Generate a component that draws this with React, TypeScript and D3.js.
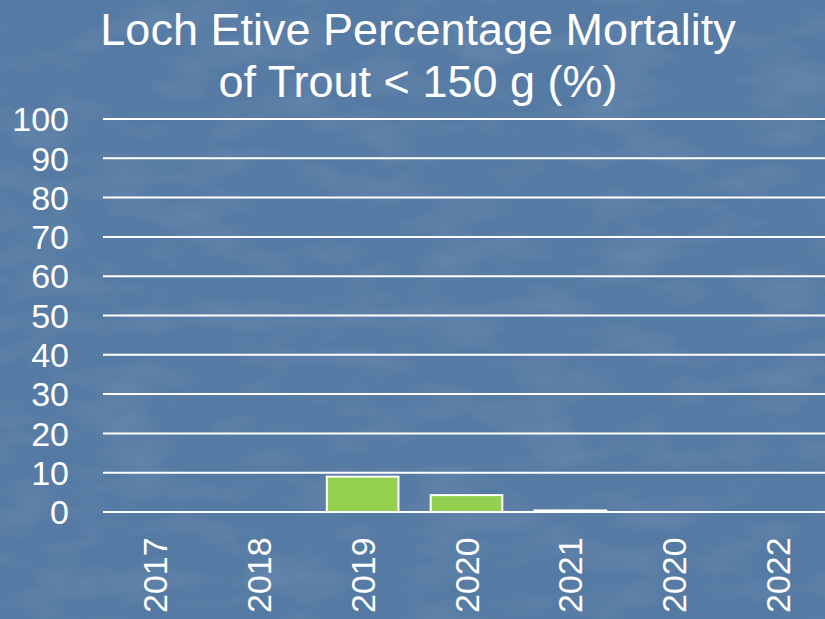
import React, { useEffect, useRef } from 'react';
import * as d3 from 'd3';

const years = ['2017', '2018', '2019', '2020', '2021', '2020', '2022'];
const mortality = [0, 0, 9, 4.3, 0.4, 0, 0];
const yTicks = [0, 10, 20, 30, 40, 50, 60, 70, 80, 90, 100];
const titleLines = ['Loch Etive Percentage Mortality', 'of Trout < 150 g (%)'];

const App = () => {
  const ref = useRef<SVGSVGElement>(null);

  useEffect(() => {
    const width = 825;
    const height = 619;
    const svg = d3.select(ref.current);
    svg.selectAll('*').remove();
    const font = '"Liberation Sans", Arial, sans-serif';

    // mottled blue backdrop
    const defs = svg.append('defs');
    const filt = defs.append('filter').attr('id', 'tex').attr('x', 0).attr('y', 0).attr('width', '100%').attr('height', '100%');
    filt.append('feTurbulence')
      .attr('type', 'fractalNoise')
      .attr('baseFrequency', '0.012 0.03')
      .attr('numOctaves', 3)
      .attr('seed', 4);
    filt.append('feColorMatrix')
      .attr('type', 'matrix')
      .attr('values', '0 0 0 0 1  0 0 0 0 1  0 0 0 0 1  0 0 0 0.5 -0.2');
    svg.append('rect').attr('width', width).attr('height', height).attr('fill', '#557aa3');
    svg.append('rect').attr('width', width).attr('height', height).attr('filter', 'url(#tex)').attr('opacity', 0.35);

    const x = d3.scaleBand<number>()
      .domain(d3.range(years.length))
      .range([103, 830])
      .paddingInner(0.31)
      .paddingOuter(0.155);
    const y = d3.scaleLinear().domain([0, 100]).range([512, 119]);

    // title
    svg.append('g')
      .selectAll('text')
      .data(titleLines)
      .enter().append('text')
        .attr('x', 418)
        .attr('y', (d, i) => 45 + i * 52)
        .attr('text-anchor', 'middle')
        .attr('fill', '#fff')
        .style('font-family', font)
        .style('font-size', '45px')
        .text((d) => d);

    // gridlines
    svg.append('g')
      .selectAll('line')
      .data(yTicks)
      .enter().append('line')
        .attr('x1', 103)
        .attr('x2', 830)
        .attr('y1', (d) => y(d))
        .attr('y2', (d) => y(d))
        .attr('stroke', '#fff')
        .attr('stroke-width', 2);

    // y tick labels
    svg.append('g')
      .selectAll('text')
      .data(yTicks)
      .enter().append('text')
        .attr('x', 69)
        .attr('y', (d) => y(d))
        .attr('dy', '0.36em')
        .attr('text-anchor', 'end')
        .attr('fill', '#fff')
        .style('font-family', font)
        .style('font-size', '34px')
        .text((d) => d);

    // bars
    svg.append('g')
      .selectAll('rect')
      .data(mortality.map((v, i) => ({ v, i })).filter((d) => d.v > 0))
      .enter().append('rect')
        .attr('x', (d) => x(d.i)!)
        .attr('y', (d) => y(d.v))
        .attr('width', x.bandwidth())
        .attr('height', (d) => y(0) - y(d.v))
        .attr('fill', '#92d050')
        .attr('stroke', '#fff')
        .attr('stroke-width', 2);

    // x labels, rotated
    svg.append('g')
      .selectAll('text')
      .data(years)
      .enter().append('text')
        .attr('transform', (d, i) => {
          const cx = x(i)! + x.bandwidth() / 2;
          return 'translate(' + (cx + 12) + ',' + 613 + ') rotate(-90)';
        })
        .attr('text-anchor', 'start')
        .attr('fill', '#fff')
        .style('font-family', font)
        .style('font-size', '34px')
        .text((d) => d);
  }, []);

  return (
    <svg ref={ref} width={825} height={619} style={{ position: 'absolute', left: 0, top: 0 }} />
  );
};

export default App;
